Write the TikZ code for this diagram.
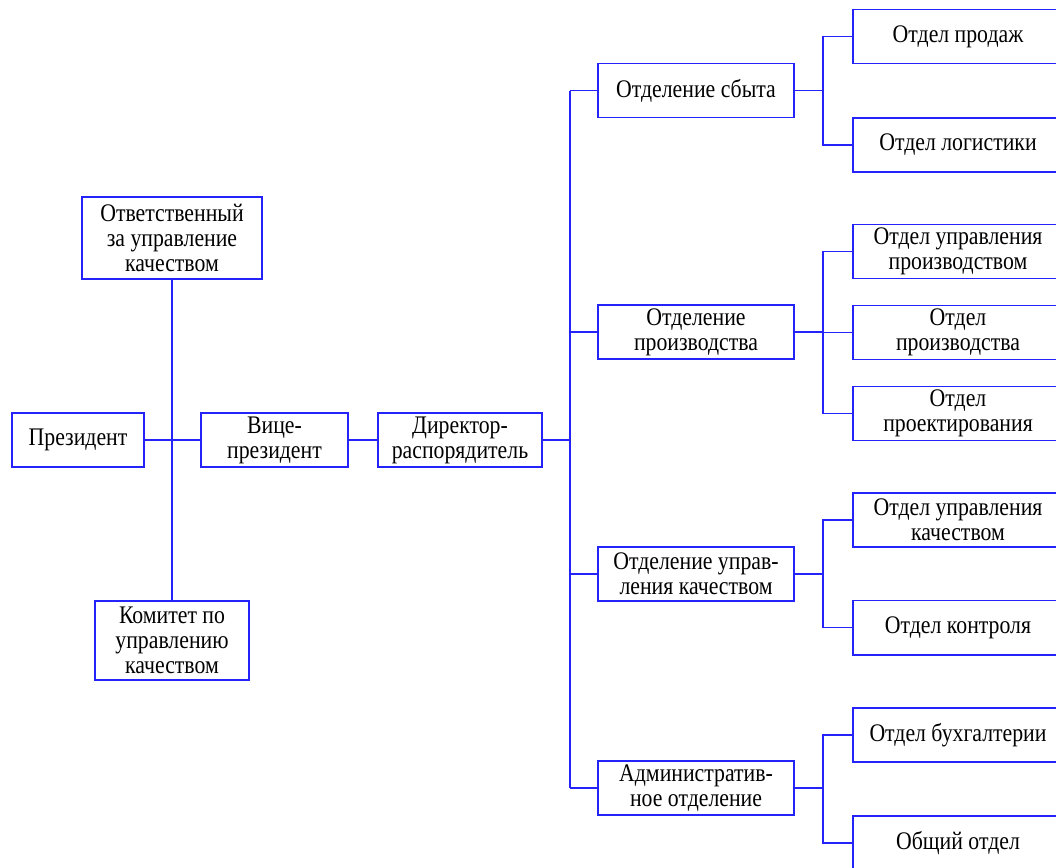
\documentclass[tikz,border=0pt]{standalone}
\usepackage{fontspec}
\setmainfont{Liberation Serif}[FakeStretch=0.86]
\definecolor{lineblue}{RGB}{35,35,250}

\begin{document}
\begin{tikzpicture}[x=0.025cm,y=-0.025cm,
  every node/.style={font=\fontsize{18}{17.8}\selectfont},
  box/.style={draw=lineblue,line width=1.4pt,fill=white,align=center,inner sep=0pt,minimum height=1.35cm},
  mid/.style={box,minimum width=4.9cm},
  dept/.style={box,minimum width=5.25cm},
  link/.style={draw=lineblue,line width=1.4pt}]
\useasboundingbox (0,0) rectangle (1056,867);
%\draw[step=100,gray,very thin] (0,0) grid (1056,867);
\coordinate (t) at (570,0);
\coordinate (b) at (823,0);
% left part
\node[box,minimum width=4.475cm,minimum height=2.05cm] (qrep) at (172,238) {Ответственный\\за управление\\качеством};
\node[box,minimum width=3.3cm] (pres) at (78,440) {Президент};
\node[box,minimum width=3.675cm] (vp) at (274.5,440) {Вице-\\президент};
\node[box,minimum width=3.825cm,minimum height=1.975cm] (comm) at (172,640.5) {Комитет по\\управлению\\качеством};
\node[box,minimum width=4.1cm] (dir) at (460,440) {Директор-\\распорядитель};
% divisions
\node[mid] (sales) at (696,90.5) {Отделение сбыта};
\node[mid] (prod) at (696,332) {Отделение\\производства};
\node[mid] (qual) at (696,574) {Отделение управ-\\ления качеством};
\node[mid] (adm) at (696,788) {Административ-\\ное отделение};
% departments
\node[dept] (d1) at (958,36.5) {Отдел продаж};
\node[dept] (d2) at (958,145) {Отдел логистики};
\node[dept] (d3) at (958,251.5) {Отдел управления\\производством};
\node[dept] (d4) at (958,332.5) {Отдел\\производства};
\node[dept] (d5) at (958,413.5) {Отдел\\проектирования};
\node[dept] (d6) at (958,520) {Отдел управления\\качеством};
\node[dept] (d7) at (958,627.5) {Отдел контроля};
\node[dept] (d8) at (958,735) {Отдел бухгалтерии};
\node[dept] (d9) at (958,843) {Общий отдел};

\draw[link] (pres) -- (vp);
\draw[link] (qrep) -- (comm);
\draw[link] (vp) -- (dir);
\draw[link] (dir.east) -- (dir.east -| t);
\draw[link] (sales.west -| t) -- (adm.west -| t);
\foreach \n in {sales,prod,qual,adm}
  \draw[link] (\n.west) -- (\n.west -| t);
\foreach \p/\c in {sales/d1,sales/d2,prod/d3,prod/d4,prod/d5,qual/d6,qual/d7,adm/d8,adm/d9}
  \draw[link] (\c.west) -- (\c.west -| b) |- (\p.east);
\end{tikzpicture}
\end{document}
